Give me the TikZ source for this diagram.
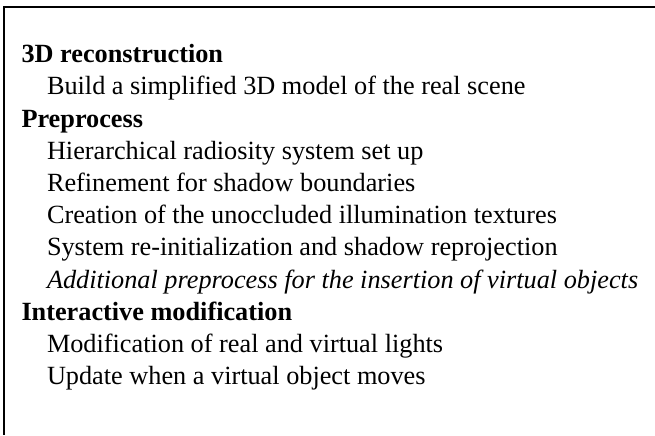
\documentclass[tikz,border=0pt]{standalone}
\usepackage{fontspec}
\setmainfont{Liberation Serif}
\usetikzlibrary{positioning}

\begin{document}
\begin{tikzpicture}[
  x=0.75pt,y=-0.75pt,
  every node/.style={anchor=base west,inner sep=0pt,font=\fontsize{19.7}{23.6}\selectfont},
  head/.style={font=\fontsize{19.7}{23.6}\selectfont\bfseries},
  item/.style={},
  extra/.style={font=\fontsize{19.7}{23.6}\selectfont\itshape},
  every path/.style={line width=1.5pt},
  ]
  \useasboundingbox (0,0) rectangle (655,435);
  \coordinate (ctl) at (4,7);
  \coordinate (ctr) at (655,7);
  \coordinate (cbl) at (4,435);
  \draw (ctr) -- (ctl) -- (cbl);
  \node[head](recon) at (20.5,62.7){3D reconstruction};
  \node[item](build) at (46,94.9){Build a simplified 3D model of the real scene};
  \node[head](prep) at (20.5,127.1){Preprocess};
  \node[item](hier) at (46,159.3){Hierarchical radiosity system set up};
  \node[item](refine) at (46,191.5){Refinement for shadow boundaries};
  \node[item](create) at (46,223.7){Creation of the unoccluded illumination textures};
  \node[item](reinit) at (46,255.9){System re-initialization and shadow reprojection};
  \node[extra](virt) at (46,288.1){Additional preprocess for the insertion of virtual objects};
  \node[head](inter) at (20.5,320.3){Interactive modification};
  \node[item](lights) at (46,352.5){Modification of real and virtual lights};
  \node[item](update) at (46,384.7){Update when a virtual object moves};
\end{tikzpicture}
\end{document}
